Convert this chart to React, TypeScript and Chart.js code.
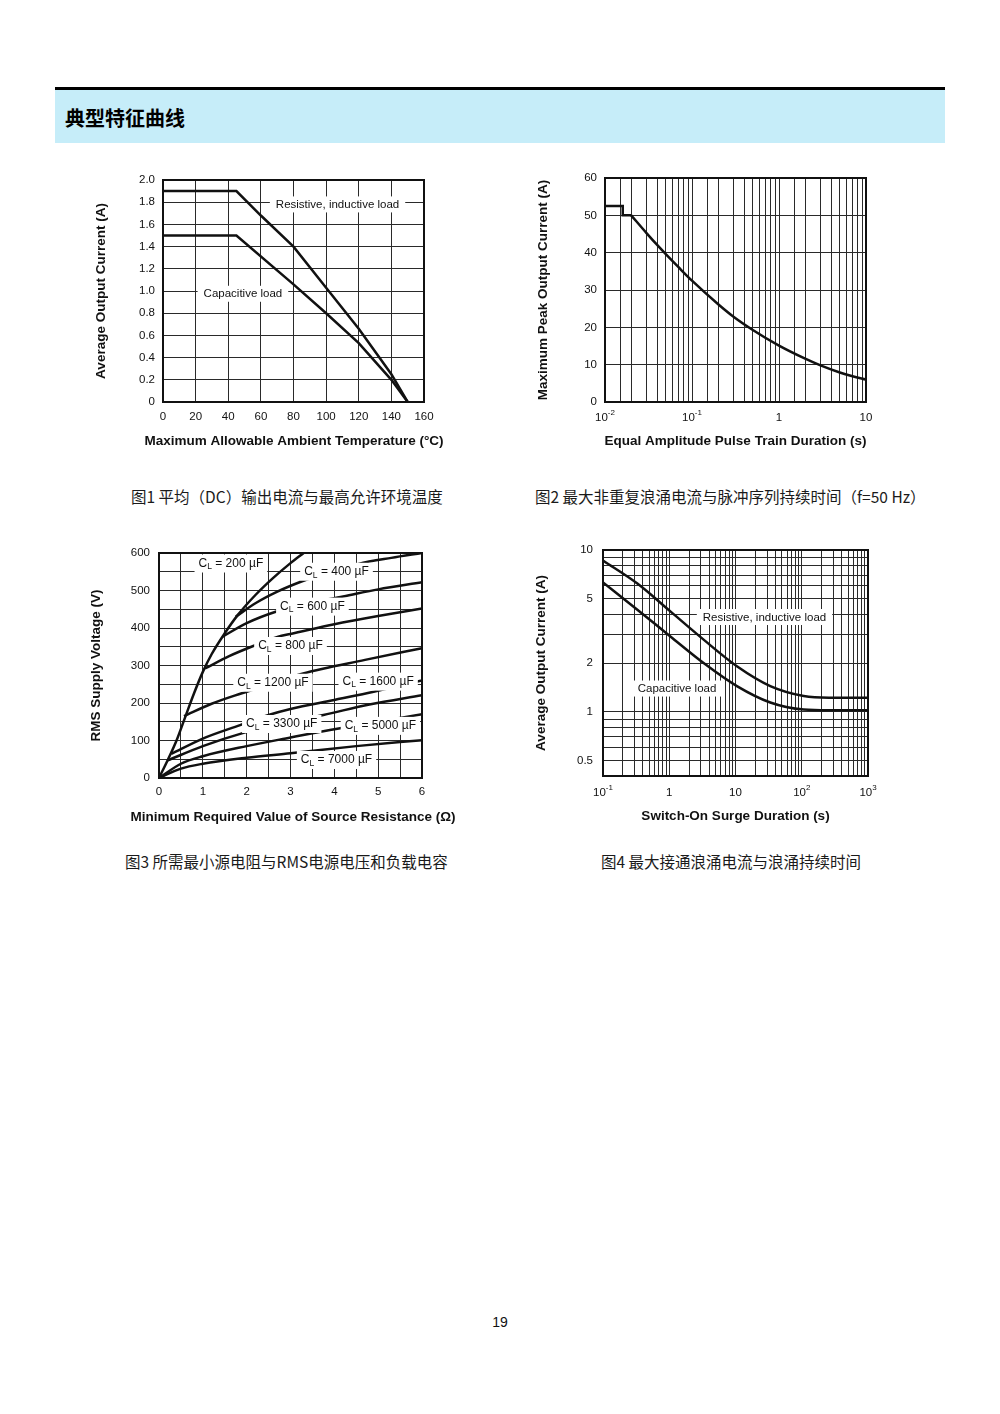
import React, { useEffect, useRef } from 'react';
import { Chart, registerables } from 'chart.js';

Chart.register(...registerables);

const FONT = '"Liberation Sans", Arial, Helvetica, sans-serif';
const CJK = '"Noto Sans CJK SC", "Noto Sans", sans-serif';
const INK = '#111111';
const GRID = '#2a2a2a';

// ---------------- Figure 1 ----------------
const fig1XTicks = [0, 20, 40, 60, 80, 100, 120, 140, 160];
const fig1YTicks = [0, 0.2, 0.4, 0.6, 0.8, 1.0, 1.2, 1.4, 1.6, 1.8, 2.0];
const fig1ResTemp = [0, 45, 60, 80, 100, 120, 140, 150];
const fig1ResCurrent = [1.9, 1.9, 1.68, 1.4, 1.03, 0.66, 0.25, 0];
const fig1CapTemp = [0, 45, 80, 100, 120, 140, 150];
const fig1CapCurrent = [1.5, 1.5, 1.06, 0.8, 0.53, 0.2, 0];
const fig1Notes = ['Resistive, inductive load', 'Capacitive load'];
const fig1NoteTemp = [107, 49];
const fig1NoteCurrent = [1.78, 0.975];

// ---------------- Figure 2 ----------------
const fig2XTicks = [
  0.01, 0.015, 0.02, 0.03, 0.04, 0.05, 0.06, 0.07, 0.08, 0.09,
  0.1, 0.15, 0.2, 0.3, 0.4, 0.5, 0.6, 0.7, 0.8, 0.9,
  1, 1.5, 2, 3, 4, 5, 6, 7, 8, 9, 10,
];
const fig2YTicks = [0, 10, 20, 30, 40, 50, 60];
const fig2XLabelValues = [0.01, 0.1, 1, 10];
const fig2XLabelBase = ['10', '10', '1', '10'];
const fig2XLabelExp = ['-2', '-1', '', ''];
const fig2StepDuration = [0.01, 0.016, 0.016, 0.02];
const fig2StepCurrent = [52.5, 52.5, 50, 50];
const fig2Duration = [0.02, 0.03, 0.04, 0.05, 0.07, 0.1, 0.2, 0.3, 0.5, 1, 2, 3, 5, 7, 10];
const fig2Current = [50, 45.25, 42.0, 39.6, 36.1, 32.5, 26.2, 22.85, 19.3, 15.1, 11.6, 9.8, 7.9, 6.9, 6.0];

// ---------------- Figure 3 ----------------
const fig3XTicks = [0, 0.5, 1, 1.5, 2, 2.5, 3, 3.5, 4, 4.5, 5, 5.5, 6];
const fig3YTicks = [0, 50, 100, 150, 200, 250, 300, 350, 400, 450, 500, 550, 600];
const cl200R = [0, 0.2, 0.4, 0.6, 0.8, 1.0, 1.2, 1.5, 1.8, 2.2, 2.6, 3.0, 3.3];
const cl200V = [0, 48, 100, 163, 226, 283, 330, 386, 435, 488, 533, 573, 600];
const cl400R = [1.75, 2.2, 2.7, 3.25, 3.9, 4.55, 5.3, 6];
const cl400V = [430, 466, 497, 524, 550, 571, 587, 600];
const cl600R = [1.45, 2.0, 2.68, 3.4, 4.2, 5.0, 6];
const cl600V = [377, 413, 444, 466, 484, 503, 522];
const cl800R = [1.05, 1.6, 2.15, 2.72, 3.0, 4.0, 5.0, 6];
const cl800V = [292, 325, 352, 377, 384, 410, 432, 452];
const cl1200R = [0.57, 1.2, 1.89, 2.6, 3.29, 4.7, 6];
const cl1200V = [165, 198, 226, 253, 279, 315, 346];
const cl1600R = [0.28, 1.0, 1.85, 2.5, 3.0, 4.0, 4.74, 6];
const cl1600V = [64, 105, 141, 168, 184, 208, 226, 260];
const cl3300R = [0.2, 1.0, 1.89, 2.8, 3.75, 4.8, 6];
const cl3300V = [47, 85, 119, 145, 168, 196, 221];
const cl5000R = [0, 0.5, 1, 2, 3, 3.9, 5.3, 6];
const cl5000V = [0, 38, 58, 85, 108, 128, 156, 170];
const cl7000R = [0, 0.5, 1, 2, 3, 4.5, 6];
const cl7000V = [0, 25, 38, 54, 66, 85, 101];
const fig3Capacitance = [200, 400, 600, 800, 1200, 1600, 3300, 5000, 7000];
const fig3NoteR = [1.64, 4.05, 3.5, 3.0, 2.6, 5.0, 2.8, 5.05, 4.05];
const fig3NoteV = [572, 550, 457, 352, 254, 257, 144, 139, 48];

// ---------------- Figure 4 ----------------
const fig4XTicks = [
  0.1, 0.2, 0.3, 0.4, 0.5, 0.6, 0.7, 0.8, 0.9,
  1, 2, 3, 4, 5, 6, 7, 8, 9,
  10, 20, 30, 40, 50, 60, 70, 80, 90,
  100, 200, 300, 400, 500, 600, 700, 800, 900, 1000,
];
const fig4YTicks = [0.5, 0.6, 0.7, 0.8, 0.9, 1, 2, 3, 4, 5, 6, 7, 8, 9, 10];
const fig4YLabelValues = [0.5, 1, 2, 5, 10];
const fig4YLabels = ['0.5', '1', '2', '5', '10'];
const fig4XLabelValues = [0.1, 1, 10, 100, 1000];
const fig4XLabelBase = ['10', '1', '10', '10', '10'];
const fig4XLabelExp = ['-1', '', '', '2', '3'];
const fig4Duration = [0.1, 0.33, 1.04, 3.3, 10.5, 33.5, 107, 257, 1000];
const fig4Resistive = [8.6, 6.2, 4.17, 2.79, 1.91, 1.44, 1.25, 1.22, 1.22];
const fig4Capacitive = [6.3, 4.27, 2.92, 2.0, 1.44, 1.14, 1.03, 1.02, 1.02];
const fig4Notes = ['Resistive, inductive load', 'Capacitive load'];
const fig4NoteDuration = [27.4, 1.31];
const fig4NoteCurrent = [3.85, 1.39];

// ---------------- helpers ----------------
const pts = (xs: number[], ys: number[]) => xs.map((x, i) => ({ x, y: ys[i] }));
const near = (a: number, b: number) => Math.abs(a - b) <= Math.abs(b) * 1e-6 + 1e-12;

const PAD_TOP = 20;
const PAD_RIGHT = 36;

const tickFont = { family: FONT, size: 11.5 };
const gridOpt = { color: GRID, lineWidth: 1, drawTicks: false };
const lineDs = (data: any[], mono: boolean) => ({
  data,
  borderColor: INK,
  borderWidth: 2.5,
  pointRadius: 0,
  fill: false,
  tension: mono ? 0.4 : 0,
  cubicInterpolationMode: mono ? 'monotone' : 'default',
});

const framePlugin = {
  id: 'frame',
  afterDraw(chart: any) {
    const { ctx, chartArea: a } = chart;
    ctx.save();
    ctx.strokeStyle = INK;
    ctx.lineWidth = 2;
    ctx.strokeRect(a.left, a.top, a.right - a.left, a.bottom - a.top);
    ctx.restore();
  },
};

function axisTitlePlugin(xTitle: string, yTitle: string, xDy: number, yDx: number, xShift: number) {
  return {
    id: 'axisTitles',
    afterDraw(chart: any) {
      const { ctx, chartArea: a } = chart;
      ctx.save();
      ctx.font = `bold 13.5px ${FONT}`;
      ctx.fillStyle = INK;
      ctx.textAlign = 'center';
      ctx.textBaseline = 'middle';
      ctx.fillText(xTitle, (a.left + a.right) / 2 + xShift, a.bottom + xDy);
      ctx.translate(a.left - yDx, (a.top + a.bottom) / 2);
      ctx.rotate(-Math.PI / 2);
      ctx.fillText(yTitle, 0, 0);
      ctx.restore();
    },
  };
}

function notePlugin(xs: number[], ys: number[], texts: string[], size: number) {
  return {
    id: 'notes',
    afterDatasetsDraw(chart: any) {
      const { ctx, scales } = chart;
      ctx.save();
      ctx.font = `${size}px ${FONT}`;
      ctx.textBaseline = 'middle';
      ctx.textAlign = 'center';
      texts.forEach((t, i) => {
        const px = scales.x.getPixelForValue(xs[i]);
        const py = scales.y.getPixelForValue(ys[i]);
        const w = ctx.measureText(t).width;
        ctx.fillStyle = '#ffffff';
        ctx.fillRect(px - w / 2 - 6, py - 8, w + 12, 16);
        ctx.fillStyle = INK;
        ctx.fillText(t, px, py + 0.5);
      });
      ctx.restore();
    },
  };
}

function capNotePlugin(xs: number[], ys: number[], values: number[]) {
  return {
    id: 'capNotes',
    afterDatasetsDraw(chart: any) {
      const { ctx, scales } = chart;
      const main = `12px ${FONT}`;
      const sub = `8.5px ${FONT}`;
      ctx.save();
      ctx.textBaseline = 'middle';
      ctx.textAlign = 'left';
      values.forEach((v, i) => {
        const px = scales.x.getPixelForValue(xs[i]);
        const py = scales.y.getPixelForValue(ys[i]);
        const rest = ` = ${v} \u00b5F`;
        ctx.font = main;
        const wC = ctx.measureText('C').width;
        const wR = ctx.measureText(rest).width;
        ctx.font = sub;
        const wL = ctx.measureText('L').width;
        const total = wC + wL + wR;
        ctx.fillStyle = '#ffffff';
        ctx.fillRect(px - total / 2 - 4, py - 9, total + 8, 18);
        ctx.fillStyle = INK;
        let x = px - total / 2;
        ctx.font = main;
        ctx.fillText('C', x, py);
        x += wC;
        ctx.font = sub;
        ctx.fillText('L', x, py + 3.5);
        x += wL;
        ctx.font = main;
        ctx.fillText(rest, x, py);
      });
      ctx.restore();
    },
  };
}

function expTickPlugin(values: number[], bases: string[], exps: string[], pad: number) {
  return {
    id: 'expTicks',
    afterDraw(chart: any) {
      const { ctx, scales, chartArea } = chart;
      const y = chartArea.bottom + pad + 7;
      ctx.save();
      ctx.fillStyle = INK;
      ctx.textBaseline = 'middle';
      ctx.textAlign = 'left';
      values.forEach((v, i) => {
        const px = scales.x.getPixelForValue(v);
        ctx.font = `11.5px ${FONT}`;
        const wb = ctx.measureText(bases[i]).width;
        ctx.font = `8px ${FONT}`;
        const we = exps[i] ? ctx.measureText(exps[i]).width : 0;
        const start = px - (wb + we) / 2;
        ctx.font = `11.5px ${FONT}`;
        ctx.fillText(bases[i], start, y);
        if (exps[i]) {
          ctx.font = `8px ${FONT}`;
          ctx.fillText(exps[i], start + wb, y - 5);
        }
      });
      ctx.restore();
    },
  };
}

const baseOptions = (extraScales: any) => ({
  responsive: false,
  animation: false,
  events: [],
  layout: { padding: { top: PAD_TOP, right: PAD_RIGHT, left: 0, bottom: 0 } },
  plugins: { legend: { display: false }, tooltip: { enabled: false } },
  scales: extraScales,
});

// ---------------- chart configs ----------------
const makeFig1 = () => ({
  type: 'line',
  data: {
    datasets: [
      lineDs(pts(fig1ResTemp, fig1ResCurrent), false),
      lineDs(pts(fig1CapTemp, fig1CapCurrent), false),
    ],
  },
  options: baseOptions({
    x: {
      type: 'linear', min: 0, max: 160,
      afterBuildTicks: (s: any) => { s.ticks = fig1XTicks.map((v) => ({ value: v })); },
      afterFit: (s: any) => { s.height = 47; },
      ticks: { font: tickFont, color: INK, padding: 8, autoSkip: false, maxRotation: 0, callback: (v: number) => String(v) },
      grid: gridOpt, border: { display: false },
    },
    y: {
      type: 'linear', min: 0, max: 2,
      afterBuildTicks: (s: any) => { s.ticks = fig1YTicks.map((v) => ({ value: v })); },
      afterFit: (s: any) => { s.width = 70; },
      ticks: { font: tickFont, color: INK, padding: 8, autoSkip: false, callback: (v: number) => (v === 0 ? '0' : Number(v).toFixed(1)) },
      grid: gridOpt, border: { display: false },
    },
  }),
  plugins: [
    notePlugin(fig1NoteTemp, fig1NoteCurrent, fig1Notes, 11.5),
    axisTitlePlugin('Maximum Allowable Ambient Temperature (\u00b0C)', 'Average Output Current (A)', 39, 62, 0.5),
    framePlugin,
  ],
});

const makeFig2 = () => ({
  type: 'line',
  data: {
    datasets: [
      lineDs(pts(fig2StepDuration, fig2StepCurrent), false),
      lineDs(pts(fig2Duration, fig2Current), true),
    ],
  },
  options: baseOptions({
    x: {
      type: 'logarithmic', min: 0.01, max: 10,
      afterBuildTicks: (s: any) => { s.ticks = fig2XTicks.map((v) => ({ value: v })); },
      afterFit: (s: any) => { s.height = 48; },
      ticks: { display: false, autoSkip: false },
      grid: gridOpt, border: { display: false },
    },
    y: {
      type: 'linear', min: 0, max: 60,
      afterBuildTicks: (s: any) => { s.ticks = fig2YTicks.map((v) => ({ value: v })); },
      afterFit: (s: any) => { s.width = 70; },
      ticks: { font: tickFont, color: INK, padding: 8, autoSkip: false, callback: (v: number) => String(v) },
      grid: gridOpt, border: { display: false },
    },
  }),
  plugins: [
    expTickPlugin(fig2XLabelValues, fig2XLabelBase, fig2XLabelExp, 9),
    axisTitlePlugin('Equal Amplitude Pulse Train Duration (s)', 'Maximum Peak Output Current (A)', 39.5, 62, 0),
    framePlugin,
  ],
});

const makeFig3 = () => ({
  type: 'line',
  data: {
    datasets: [
      lineDs(pts(cl200R, cl200V), true),
      lineDs(pts(cl400R, cl400V), true),
      lineDs(pts(cl600R, cl600V), true),
      lineDs(pts(cl800R, cl800V), true),
      lineDs(pts(cl1200R, cl1200V), true),
      lineDs(pts(cl1600R, cl1600V), true),
      lineDs(pts(cl3300R, cl3300V), true),
      lineDs(pts(cl5000R, cl5000V), true),
      lineDs(pts(cl7000R, cl7000V), true),
    ],
  },
  options: baseOptions({
    x: {
      type: 'linear', min: 0, max: 6,
      afterBuildTicks: (s: any) => { s.ticks = fig3XTicks.map((v) => ({ value: v })); },
      afterFit: (s: any) => { s.height = 47; },
      ticks: { font: tickFont, color: INK, padding: 7, autoSkip: false, maxRotation: 0, callback: (v: number) => (Number.isInteger(v) ? String(v) : '') },
      grid: gridOpt, border: { display: false },
    },
    y: {
      type: 'linear', min: 0, max: 600,
      afterBuildTicks: (s: any) => { s.ticks = fig3YTicks.map((v) => ({ value: v })); },
      afterFit: (s: any) => { s.width = 71; },
      ticks: { font: tickFont, color: INK, padding: 9, autoSkip: false, callback: (v: number) => (v % 100 === 0 ? String(v) : '') },
      grid: gridOpt, border: { display: false },
    },
  }),
  plugins: [
    capNotePlugin(fig3NoteR, fig3NoteV, fig3Capacitance),
    axisTitlePlugin('Minimum Required Value of Source Resistance (\u03a9)', 'RMS Supply Voltage (V)', 39, 63, 2.5),
    framePlugin,
  ],
});

const makeFig4 = () => ({
  type: 'line',
  data: {
    datasets: [
      lineDs(pts(fig4Duration, fig4Resistive), true),
      lineDs(pts(fig4Duration, fig4Capacitive), true),
    ],
  },
  options: baseOptions({
    x: {
      type: 'logarithmic', min: 0.1, max: 1000,
      afterBuildTicks: (s: any) => { s.ticks = fig4XTicks.map((v) => ({ value: v })); },
      afterFit: (s: any) => { s.height = 48; },
      ticks: { display: false, autoSkip: false },
      grid: gridOpt, border: { display: false },
    },
    y: {
      type: 'logarithmic', min: 0.4, max: 10,
      afterBuildTicks: (s: any) => { s.ticks = fig4YTicks.map((v) => ({ value: v })); },
      afterFit: (s: any) => { s.width = 69; },
      ticks: {
        font: tickFont, color: INK, padding: 10, autoSkip: false,
        callback: (v: number) => {
          const i = fig4YLabelValues.findIndex((lv) => near(v, lv));
          return i >= 0 ? fig4YLabels[i] : '';
        },
      },
      grid: gridOpt, border: { display: false },
    },
  }),
  plugins: [
    notePlugin(fig4NoteDuration, fig4NoteCurrent, fig4Notes, 11.5),
    expTickPlugin(fig4XLabelValues, fig4XLabelBase, fig4XLabelExp, 10),
    axisTitlePlugin('Switch-On Surge Duration (s)', 'Average Output Current (A)', 40, 61.5, 0),
    framePlugin,
  ],
});

function ChartCanvas({ left, top, width, height, make }: any) {
  const ref = useRef<HTMLCanvasElement>(null);
  useEffect(() => {
    const chart = new Chart(ref.current as HTMLCanvasElement, make() as any);
    return () => chart.destroy();
  }, []);
  return (
    <div style={{ position: 'absolute', left, top, width, height }}>
      <canvas ref={ref} width={width} height={height} style={{ display: 'block', width, height }} />
    </div>
  );
}

const captionStyle = (left: number, top: number): React.CSSProperties => ({
  position: 'absolute',
  left,
  top,
  fontFamily: CJK,
  fontSize: 15.5,
  lineHeight: '20px',
  color: '#1a1a1a',
  whiteSpace: 'nowrap',
});

export default function App() {
  return (
    <div style={{ position: 'absolute', left: 0, top: 0, width: 1000, height: 1414, background: '#ffffff', overflow: 'hidden' }}>
      <div style={{ position: 'absolute', left: 55, top: 87, width: 890, height: 3, background: '#000000' }} />
      <div style={{ position: 'absolute', left: 55, top: 90, width: 890, height: 53, background: '#c6edf9' }} />
      <div style={{ position: 'absolute', left: 65, top: 106, fontFamily: CJK, fontWeight: 700, fontSize: 20, lineHeight: '24px', color: '#000' }}>
        典型特征曲线
      </div>

      {/* plot areas: fig1 163-424 x 180-402, fig2 605-866 x 178-402, fig3 159-422 x 553-778, fig4 603-868 x 550-776 */}
      <ChartCanvas left={93} top={180 - PAD_TOP} width={70 + 261 + PAD_RIGHT} height={PAD_TOP + 222 + 47} make={makeFig1} />
      <ChartCanvas left={535} top={178 - PAD_TOP} width={70 + 261 + PAD_RIGHT} height={PAD_TOP + 224 + 48} make={makeFig2} />
      <ChartCanvas left={88} top={553 - PAD_TOP} width={71 + 263 + PAD_RIGHT} height={PAD_TOP + 225 + 47} make={makeFig3} />
      <ChartCanvas left={534} top={550 - PAD_TOP} width={69 + 265 + PAD_RIGHT} height={PAD_TOP + 226 + 48} make={makeFig4} />

      <div style={captionStyle(131, 486)}>图1 平均（DC）输出电流与最高允许环境温度</div>
      <div style={captionStyle(535, 486)}>图2 最大非重复浪涌电流与脉冲序列持续时间（f=50 Hz）</div>
      <div style={captionStyle(125, 851)}>图3 所需最小源电阻与RMS电源电压和负载电容</div>
      <div style={captionStyle(601, 851)}>图4 最大接通浪涌电流与浪涌持续时间</div>

      <div style={{ position: 'absolute', left: 500, top: 1313, transform: 'translateX(-50%)', fontFamily: FONT, fontSize: 14, lineHeight: '18px', color: '#111' }}>
        19
      </div>
    </div>
  );
}
